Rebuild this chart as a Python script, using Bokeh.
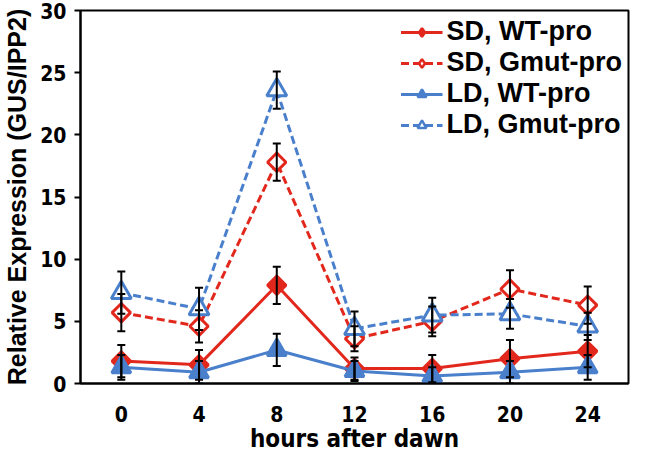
import math
from bokeh.plotting import figure
from bokeh.models import (ColumnDataSource, Whisker, TeeHead, FixedTicker, Range1d, Legend,
                          LegendItem, CDSView, IndexFilter)
from bokeh.embed import file_html
from bokeh.resources import INLINE

hours = [0, 4, 8, 12, 16, 20, 24]
sd_wt = [1.8, 1.5, 7.9, 1.2, 1.2, 2.0, 2.6]
sd_wt_err = [1.3, 1.2, 1.5, 0.9, 1.1, 1.5, 1.3]
sd_gmut = [5.7, 4.6, 17.8, 3.6, 5.0, 7.6, 6.3]
sd_gmut_err = [1.5, 1.3, 1.5, 1.0, 1.2, 1.5, 1.5]
ld_wt = [1.3, 0.9, 2.7, 1.0, 0.6, 0.9, 1.3]
ld_wt_err = [1.0, 0.9, 1.3, 0.8, 0.7, 0.9, 1.0]
ld_gmut = [7.3, 6.0, 23.6, 4.4, 5.5, 5.6, 4.6]
ld_gmut_err = [1.7, 1.7, 1.5, 1.4, 1.4, 1.2, 1.1]
y_ticks = [0, 5, 10, 15, 20, 25, 30]

RED = "#E2281D"
BLUE = "#4A7FCB"
COND = "DejaVu Sans Condensed"

p = figure(width=632, height=455, output_backend="svg", toolbar_location=None,
           x_range=Range1d(-2.1, 26.1), y_range=Range1d(0, 30),
           min_border_left=68, min_border_right=4, min_border_top=10, min_border_bottom=60)
p.grid.visible = False
p.outline_line_color = "black"
p.outline_line_width = 2

series = [
    ("SD, WT-pro", sd_wt, sd_wt_err, RED, "solid", "square", RED, 13, "diamond", 16),
    ("SD, Gmut-pro", sd_gmut, sd_gmut_err, RED, "8 4", "square", "white", 13, "diamond", 14),
    ("LD, WT-pro", ld_wt, ld_wt_err, BLUE, "solid", "triangle", BLUE, 19, "triangle", 14),
    ("LD, Gmut-pro", ld_gmut, ld_gmut_err, BLUE, "8 4", "triangle", "white", 20, "triangle", 13),
]

items = []
for name, ys, errs, color, dash, marker, fill, size, lg_marker, lg_size in series:
    src = ColumnDataSource(dict(x=hours, y=ys,
                                lo=[a - b for a, b in zip(ys, errs)],
                                hi=[a + b for a, b in zip(ys, errs)]))
    ln = p.line("x", "y", source=src, line_color=color, line_width=3, line_dash=dash)
    # small legend glyph, hidden under the first real marker
    lg = p.scatter("x", "y", source=src, view=CDSView(filter=IndexFilter([0])),
                   marker=lg_marker, size=lg_size, line_color=color,
                   line_width=2.5, fill_color=fill)
    ang = math.pi / 4 if marker == "square" else 0
    p.scatter("x", "y", source=src, marker=marker, size=size, angle=ang,
              line_color=color, line_width=3, fill_color=fill)
    w = Whisker(base="x", lower="lo", upper="hi", source=src, line_color="black", line_width=2,
                level="overlay",
                upper_head=TeeHead(size=8, line_color="black", line_width=2),
                lower_head=TeeHead(size=8, line_color="black", line_width=2))
    p.add_layout(w)
    items.append(LegendItem(label=name, renderers=[ln, lg]))

legend = Legend(items=items, location="top_right", border_line_alpha=0,
                background_fill_alpha=0, margin=0, padding=6, spacing=0,
                label_text_font="Liberation Sans", label_text_font_style="bold",
                label_text_font_size="27px", label_text_color="black",
                label_text_line_height=0.9,
                glyph_width=42, glyph_height=22, label_height=22, label_standoff=4)
p.add_layout(legend)

p.xaxis.ticker = FixedTicker(ticks=hours)
p.yaxis.ticker = FixedTicker(ticks=y_ticks)
p.xaxis.axis_label = "hours after dawn"
p.yaxis.axis_label = "Relative Expression (GUS/IPP2)"
for ax in (p.xaxis, p.yaxis):
    ax.axis_line_width = 2
    ax.axis_line_color = "black"
    ax.major_tick_line_width = 2
    ax.minor_tick_line_color = None
    ax.major_label_text_font = COND
    ax.major_label_text_font_style = "bold"
    ax.major_label_text_font_size = "21px"
    ax.major_label_text_color = "black"
    ax.axis_label_text_font_style = "bold"
    ax.axis_label_text_color = "black"
p.xaxis.major_tick_out = 0
p.xaxis.major_tick_in = 0
p.xaxis.major_label_standoff = 22
p.xaxis.axis_label_standoff = 0
p.xaxis.axis_label_text_font = COND
p.xaxis.axis_label_text_font_size = "24px"
p.yaxis.major_tick_out = 6
p.yaxis.major_tick_in = 0
p.yaxis.major_label_standoff = 8
p.yaxis.axis_label_standoff = 6
p.yaxis.axis_label_text_font = "Liberation Sans"
p.yaxis.axis_label_text_font_size = "25px"

open("out.html", "w").write(file_html(p, INLINE))
